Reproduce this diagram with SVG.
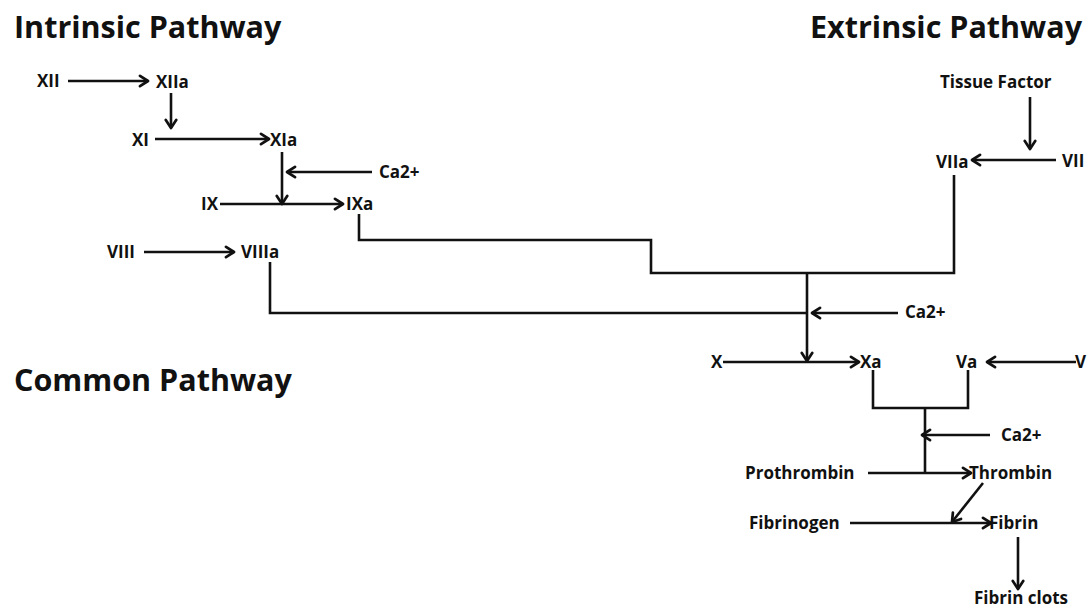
<svg xmlns="http://www.w3.org/2000/svg" width="1088" height="608" viewBox="0 0 1088 608">
<defs>
<marker id="ah" viewBox="0 0 14 14" refX="12" refY="7" markerWidth="14" markerHeight="14" markerUnits="userSpaceOnUse" orient="auto">
<path d="M4,1.8 L12,7 L4,12.2" fill="none" stroke="#111" stroke-width="2.7" stroke-linecap="round" stroke-linejoin="round"/>
</marker>
<style>
.t{font-family:"Open Sans","Liberation Sans",sans-serif;font-weight:700;font-size:30.5px;fill:#111}
.l{font-family:"Open Sans","Liberation Sans",sans-serif;font-weight:700;font-size:17px;fill:#111}
.c{fill:none;stroke:#111;stroke-width:2.6}
.a{fill:none;stroke:#111;stroke-width:2.6;marker-end:url(#ah)}
</style>
</defs>
<rect width="1088" height="608" fill="#fff"/>
<g id="titles">
<text class="t" x="14" y="38">Intrinsic Pathway</text>
<text class="t" x="1082" y="38" text-anchor="end">Extrinsic Pathway</text>
<text class="t" x="14" y="391">Common Pathway</text>
</g>
<g id="n-XII"><text class="l" x="37" y="87">XII</text></g>
<g id="n-XIIa"><text class="l" x="156" y="88">XIIa</text></g>
<g id="n-XI"><text class="l" x="132" y="146">XI</text></g>
<g id="n-XIa"><text class="l" x="270" y="146">XIa</text></g>
<g id="n-Ca1"><text class="l" x="379" y="178">Ca2+</text></g>
<g id="n-IX"><text class="l" x="201" y="210">IX</text></g>
<g id="n-IXa"><text class="l" x="346" y="210">IXa</text></g>
<g id="n-VIII"><text class="l" x="107" y="258">VIII</text></g>
<g id="n-VIIIa"><text class="l" x="241" y="258">VIIIa</text></g>
<g id="n-TF"><text class="l" x="940" y="88">Tissue Factor</text></g>
<g id="n-VIIa"><text class="l" x="936" y="168">VIIa</text></g>
<g id="n-VII"><text class="l" x="1062" y="167">VII</text></g>
<g id="n-Ca2"><text class="l" x="905" y="318">Ca2+</text></g>
<g id="n-X"><text class="l" x="711" y="368">X</text></g>
<g id="n-Xa"><text class="l" x="860" y="368">Xa</text></g>
<g id="n-Va"><text class="l" x="956" y="368">Va</text></g>
<g id="n-V"><text class="l" x="1075" y="368">V</text></g>
<g id="n-Ca3"><text class="l" x="1001" y="441">Ca2+</text></g>
<g id="n-Prothrombin"><text class="l" x="745" y="479">Prothrombin</text></g>
<g id="n-Thrombin"><text class="l" x="969" y="479">Thrombin</text></g>
<g id="n-Fibrinogen"><text class="l" x="749" y="529">Fibrinogen</text></g>
<g id="n-Fibrin"><text class="l" x="989" y="529">Fibrin</text></g>
<g id="n-Clots"><text class="l" x="974" y="604">Fibrin clots</text></g>
<g id="connectors">
<line class="a" x1="68" y1="81" x2="148" y2="81"/>
<line class="a" x1="171" y1="93" x2="171" y2="128"/>
<line class="a" x1="155" y1="139" x2="269" y2="139"/>
<line class="a" x1="282" y1="152" x2="282" y2="204"/>
<line class="a" x1="372" y1="172" x2="287" y2="172"/>
<line class="a" x1="220" y1="204" x2="343" y2="204"/>
<line class="a" x1="144" y1="252" x2="234" y2="252"/>
<polyline class="c" points="359,214 359,240 651,240 651,273 954,273 954,175"/>
<polyline class="c" points="270,262 270,313 807,313"/>
<line class="a" x1="807" y1="273" x2="807" y2="361"/>
<line class="a" x1="898" y1="313" x2="812" y2="313"/>
<line class="a" x1="1030" y1="97" x2="1030" y2="149"/>
<line class="a" x1="1056" y1="160" x2="972" y2="160"/>
<line class="a" x1="723" y1="362" x2="859" y2="362"/>
<line class="a" x1="1076" y1="362" x2="987" y2="362"/>
<polyline class="c" points="873,370 873,408 968,408 968,370"/>
<line class="c" x1="925" y1="408" x2="925" y2="473"/>
<line class="a" x1="990" y1="435" x2="922" y2="435"/>
<line class="a" x1="868" y1="473" x2="971" y2="473"/>
<line class="a" x1="983" y1="483" x2="952" y2="522"/>
<line class="a" x1="850" y1="523" x2="991" y2="523"/>
<line class="a" x1="1018" y1="537" x2="1018" y2="589"/>
</g>
</svg>
